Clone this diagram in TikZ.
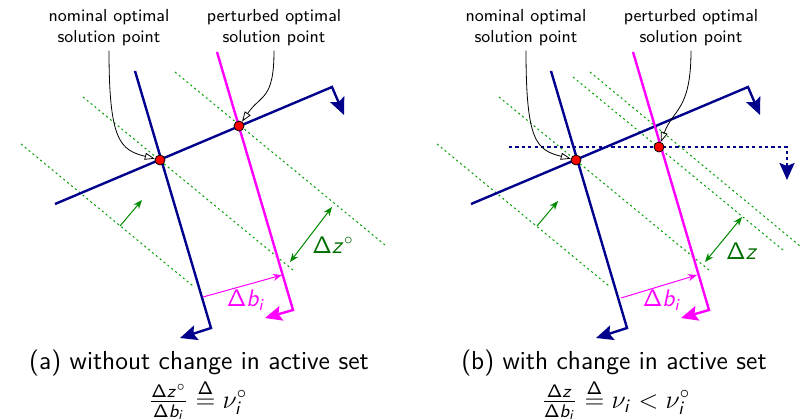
\RequirePackage{fix-cm}
\documentclass[tikz,border=0pt]{standalone}
\renewcommand{\familydefault}{\sfdefault}
\usetikzlibrary{arrows.meta}

\DeclareMathAlphabet{\mathsfsl}{OT1}{cmss}{m}{sl}
\newcommand{\Dz}{\mathsf{\Delta}\mathsfsl{z}}
\newcommand{\Dbi}{\mathsf{\Delta}\mathsfsl{b}_{\mathsfsl{i}}}
\newcommand{\nui}{\nu_{\mathsfsl{i}}}

\definecolor{cblue}{RGB}{0,0,140}
\definecolor{cmag}{RGB}{255,0,255}
\definecolor{cgreen}{RGB}{0,160,0}
\definecolor{cdgreen}{RGB}{0,110,0}

\tikzset{
  bnd/.style={cblue,line width=1.2pt},
  pbnd/.style={cmag,line width=1.2pt},
  nrm/.style={-{Stealth[length=8.5pt,width=7.5pt,inset=1.5pt]}},
  lvl/.style={cgreen,line width=0.5pt,dash pattern=on 1pt off 1.5pt},
  grad/.style={cgreen!85!black,line width=0.5pt,-{Stealth[length=4.5pt,width=3.5pt]}},
  dist/.style={cgreen!85!black,line width=0.5pt,{Stealth[length=4.5pt,width=3.5pt]}-{Stealth[length=4.5pt,width=3.5pt]}},
  pshift/.style={cmag,line width=0.5pt,-{Stealth[length=4.5pt,width=3.5pt]}},
  optpt/.style={circle,fill=red,draw=black,line width=0.4pt,inner sep=0pt,minimum size=5pt},
  pinlbl/.style={align=center,font=\fontsize{8.7}{10.5}\selectfont,inner sep=2pt},
  pinarr/.style={black,line width=0.4pt,-{Triangle[open,length=5pt,width=3.5pt]}},
  dlbl/.style={font=\fontsize{12}{14}\selectfont},
  captxt/.style={font=\fontsize{13}{15}\selectfont,inner sep=0.3pt}
}

\begin{document}
\begin{tikzpicture}[x=0.5pt,y=-0.5pt]
  \useasboundingbox (0,0) rectangle (806,419);

  % (a) without change in active set
  \begin{scope}
    \coordinate (G1s) at (21,144);  \coordinate (G1e) at (193,286);
    \coordinate (G2s) at (83,97);   \coordinate (G2e) at (293,270);
    \coordinate (G3s) at (175,72);  \coordinate (G3e) at (385,245);
    \draw[lvl] (G1s) -- (G1e);
    \draw[lvl] (G2s) -- (G2e);
    \draw[lvl] (G3s) -- (G3e);

    \coordinate (As) at (55,204);  \coordinate (Ae) at (332,87);  \coordinate (An) at (344,115);
    \coordinate (Bs) at (135,71);  \coordinate (Be) at (211,328); \coordinate (Bn) at (180,338);
    \coordinate (Cs) at (217,52);  \coordinate (Ce) at (293,310); \coordinate (Cn) at (265,318);
    \draw[bnd,nrm] (As) -- (Ae) -- (An);
    \draw[bnd,nrm] (Bs) -- (Be) -- (Bn);
    \draw[pbnd,nrm] (Cs) -- (Ce) -- (Cn);

    \node[optpt] (N) at (160,160) {};
    \node[optpt] (P) at (239,126) {};

    \node[pinlbl] (NL) at (109,28) {nominal optimal\\solution point};
    \node[pinlbl] (PL) at (274,28) {perturbed optimal\\solution point};
    \draw[pinarr] (NL.south) .. controls +(0,90) and +(-40,-10) .. (N);
    \draw[pinarr] (PL.south) .. controls +(0,50) and +(22,-32) .. (P);

    % gradient and distances
    \coordinate (g0) at (120,226); \coordinate (g1) at (142,200);
    \draw[grad] (g0) -- (g1);
    \coordinate (d0) at (290,262); \coordinate (d1) at (332,207);
    \draw[dist] (d0) -- (d1);
    \node[dlbl,cdgreen] (DZ) at (333,245) {$\Dz^\circ$};
    \coordinate (b0) at (203,297); \coordinate (b1) at (282,275);
    \draw[pshift] (b0) -- (b1);
    \node[dlbl,cmag] (DB) at (246,300) {$\Dbi$};

    \node[captxt] (capA) at (199,363) {(a) without change in active set};
    \node[captxt] (eqA) at (198,400) {$\frac{\Dz^\circ}{\Dbi} \stackrel{\mathsf{\Delta}}{=} \nui^\circ$};
  \end{scope}

  % (b) with change in active set
  \begin{scope}[xshift=208pt]
    \coordinate (G1s) at (21,144);  \coordinate (G1e) at (193,286);
    \coordinate (G2s) at (83,97);   \coordinate (G2e) at (293,270);
    \coordinate (G3s) at (157,77);  \coordinate (G3e) at (367,250);
    \coordinate (G4s) at (174,72);  \coordinate (G4e) at (384,246);
    \draw[lvl] (G1s) -- (G1e);
    \draw[lvl] (G2s) -- (G2e);
    \draw[lvl] (G3s) -- (G3e);
    \draw[lvl] (G4s) -- (G4e);

    \coordinate (As) at (55,204);  \coordinate (Ae) at (332,87);  \coordinate (An) at (344,115);
    \coordinate (Bs) at (135,71);  \coordinate (Be) at (211,328); \coordinate (Bn) at (180,338);
    \coordinate (Cs) at (217,52);  \coordinate (Ce) at (293,310); \coordinate (Cn) at (265,318);
    \coordinate (Hs) at (93,147);  \coordinate (He) at (371,147); \coordinate (Hn) at (371,180);
    \draw[bnd,nrm] (As) -- (Ae) -- (An);
    \draw[bnd,nrm] (Bs) -- (Be) -- (Bn);
    \draw[pbnd,nrm] (Cs) -- (Ce) -- (Cn);
    \draw[bnd,nrm,dash pattern=on 1.6pt off 1.6pt] (Hs) -- (He) -- (Hn);

    \node[optpt] (N) at (160,160) {};
    \node[optpt] (P) at (243,147) {};

    \node[pinlbl] (NL) at (110,28) {nominal optimal\\solution point};
    \node[pinlbl] (PL) at (275,28) {perturbed optimal\\solution point};
    \draw[pinarr] (NL.south) .. controls +(0,90) and +(-40,-10) .. (N);
    \draw[pinarr] (PL.south) .. controls +(0,60) and +(14,-38) .. (P);

    % gradient and distances
    \coordinate (g0) at (121,226); \coordinate (g1) at (142,201);
    \draw[grad] (g0) -- (g1);
    \coordinate (d0) at (289,262); \coordinate (d1) at (326,217);
    \draw[dist] (d0) -- (d1);
    \node[dlbl,cdgreen] (DZ) at (326,251) {$\Dz$};
    \coordinate (b0) at (205,298); \coordinate (b1) at (281,275);
    \draw[pshift] (b0) -- (b1);
    \node[dlbl,cmag] (DB) at (246,300) {$\Dbi$};

    \node[captxt] (capB) at (198,363) {(b) with change in active set};
    \node[captxt] (eqB) at (200,400) {$\frac{\Dz}{\Dbi} \stackrel{\mathsf{\Delta}}{=} \nui < \nui^\circ$};
  \end{scope}
\end{tikzpicture}
\end{document}
